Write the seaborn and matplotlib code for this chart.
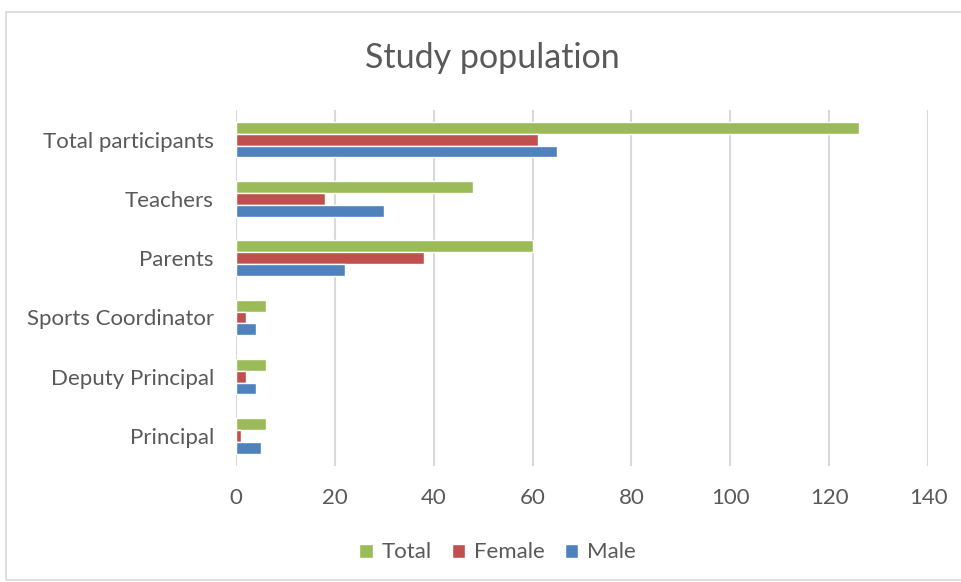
import pandas as pd
import matplotlib.pyplot as plt
import seaborn as sns
from matplotlib.patches import Rectangle

# datos
categorias = ['Total participants', 'Teachers', 'Parents',
              'Sports Coordinator', 'Deputy Principal', 'Principal']
total = [126, 48, 60, 6, 6, 6]
female = [61, 18, 38, 2, 2, 1]
male = [65, 30, 22, 4, 4, 5]
series = ['Total', 'Female', 'Male']
colores = ['#9BBB59', '#C0504D', '#4F81BD']

df = pd.DataFrame({
    'categoria': categorias * 3,
    'serie': ['Total'] * 6 + ['Female'] * 6 + ['Male'] * 6,
    'valor': total + female + male,
})

sns.set_theme(style="white")
plt.rcParams['font.family'] = ['Lato', 'DejaVu Sans']
texto = '#595959'

fig = plt.figure(figsize=(9.61, 5.82), dpi=100)
ax = fig.add_axes([0.2456, 0.20, 0.7201, 0.611])

sns.barplot(
    data=df, x='valor', y='categoria', hue='serie',
    order=categorias, hue_order=series, palette=colores,
    orient='h', width=0.6, saturation=1, ax=ax, legend=True
)

ax.set_xlim(0, 140)
ax.set_xticks(range(0, 141, 20))
ax.grid(axis='x', color='#D9D9D9', linewidth=1.5)
ax.set_axisbelow(True)
for s in ax.spines.values():
    s.set_visible(False)
ax.set_xlabel('')
ax.set_ylabel('')
ax.tick_params(axis='both', length=0, labelsize=16, labelcolor=texto)
ax.tick_params(axis='x', pad=16)
ax.tick_params(axis='y', pad=16)

ax.legend(loc='upper center', bbox_to_anchor=(0.378, -0.16), ncol=3,
          frameon=False, fontsize=16, labelcolor=texto,
          handlelength=0.6, handleheight=0.6, handletextpad=0.4,
          columnspacing=0.9)

fig.suptitle('Study population', fontsize=24.5, color=texto, x=0.512, y=0.928)

# marco exterior
fig.patches.append(Rectangle((0.006, 0.003), 1.2, 0.976, transform=fig.transFigure,
                             fill=False, edgecolor='#D9D9D9', linewidth=1.2))

plt.savefig('out.png', dpi=100)
plt.close()
